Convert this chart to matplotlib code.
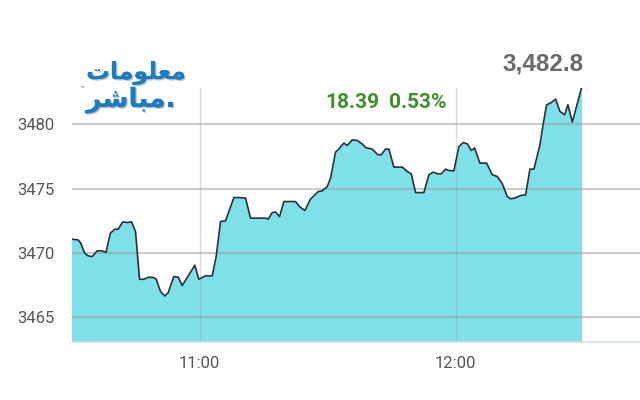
import matplotlib
matplotlib.use("Agg")
import matplotlib.pyplot as plt
import matplotlib.patheffects as pe

# minutes after 10:30
minutes = [0, 1.5, 2.1, 3.1, 3.9, 4.85, 6.0, 7.0, 8.1, 9.1, 10.15, 10.95, 12.0, 13.05, 14.06,
           15.0, 15.94, 16.94, 18.1, 19.3, 19.85, 20.86, 21.87, 22.66, 23.97, 25.0, 25.94,
           28.9, 29.83, 30.77, 31.4, 32.97, 33.9, 34.92, 36.09, 38.04, 39.2, 40.78, 41.95,
           45.47, 46.1, 47.04, 47.8, 48.75, 49.75, 52.5, 53.43, 54.68, 56.0, 57.82, 58.75,
           59.93, 60.7, 61.87, 62.64, 63.82, 64.61, 65.78, 66.96, 68.13, 68.9, 70.47, 71.78,
           72.58, 73.59, 74.36, 75.53, 77.5, 78.67, 79.61, 80.62, 82.56, 83.74, 84.77, 85.7,
           86.64, 87.65, 88.42, 89.6, 90.77, 91.8, 92.74, 93.67, 94.45, 95.69, 97.26, 98.59,
           99.77, 100.94, 102.11, 102.89, 103.82, 105.23, 106.4, 107.41, 108.35, 109.75,
           110.55, 111.32, 112.26, 113.43, 114.44, 115.54, 116.31, 117.34, 119.5]
values = [3471.07, 3471.01, 3470.8, 3469.98, 3469.77, 3469.71, 3470.16, 3470.16, 3470.05,
          3471.53, 3471.84, 3471.84, 3472.41, 3472.36, 3472.41, 3471.66, 3467.95, 3467.95,
          3468.11, 3468.08, 3467.95, 3466.99, 3466.65, 3466.91, 3468.16, 3468.11, 3467.46,
          3469.04, 3467.95, 3468.11, 3468.21, 3468.21, 3469.71, 3472.44, 3472.49, 3474.3,
          3474.3, 3474.26, 3472.7, 3472.7, 3472.62, 3473.14, 3473.17, 3472.82, 3473.99,
          3473.99, 3473.6, 3473.29, 3474.18, 3474.77, 3474.82, 3475.16, 3475.81, 3477.84,
          3478.07, 3478.54, 3478.35, 3478.79, 3478.74, 3478.46, 3478.19, 3478.07, 3477.63,
          3477.63, 3478.07, 3478.07, 3476.67, 3476.67, 3476.33, 3476.15, 3474.69, 3474.69,
          3476.07, 3476.28, 3476.15, 3476.15, 3476.51, 3476.4, 3476.38, 3478.27, 3478.58,
          3478.48, 3477.96, 3478.15, 3476.98, 3476.98, 3476.07, 3475.94, 3475.37, 3474.38,
          3474.2, 3474.26, 3474.46, 3474.51, 3476.51, 3476.51, 3478.4, 3480.09, 3481.52,
          3481.65, 3481.96, 3481.0, 3480.74, 3481.52, 3480.17, 3482.82]

y_ticks = [3465, 3470, 3475, 3480]
x_ticks = [30, 90]
x_tick_labels = ["11:00", "12:00"]
last_price = "3,482.8"
change_text = "18.39"
change_pct_text = "0.53%"

fig = plt.figure(figsize=(6.4, 4.0), dpi=100)
ax = fig.add_axes([71.5 / 640, 58 / 400, 1 - 71.5 / 640, (342 - 88) / 400])

ylo = 3463.07
ax.fill_between(minutes, values, ylo, color="#7fe0ea", lw=0, zorder=1)
ax.plot(minutes, values, color="#273238", lw=1.2, zorder=3)

ax.set_xlim(0, 133.2)
ax.set_ylim(ylo, max(values))
ax.set_yticks(y_ticks)
ax.set_xticks(x_ticks)
ax.set_xticklabels(x_tick_labels)
ax.yaxis.grid(True, color="#9a9a9a", lw=1.6, alpha=0.5, zorder=2)
ax.xaxis.grid(True, color="#9a9a9a", lw=1.0, alpha=0.35, zorder=2)
ax.set_axisbelow(False)
for s in ["top", "right", "left"]:
    ax.spines[s].set_visible(False)
ax.spines["bottom"].set_color("#d5e3ea")
ax.spines["bottom"].set_linewidth(1.2)
ax.tick_params(length=0, colors="#555555", labelsize=12)
ax.tick_params(axis="y", pad=12)
ax.tick_params(axis="x", pad=10)
for lab in ax.get_xticklabels() + ax.get_yticklabels():
    lab.set_family("Roboto")

fig.text(584 / 640, 1 - 64 / 400, last_price, ha="right", va="center",
         fontsize=17.5, fontweight="bold", color="#6a6a6a", family="Liberation Sans")
fig.text(325 / 640, 1 - 103 / 400, change_text, ha="left", va="center",
         fontsize=15, fontweight="bold", color="#3f8f2a", family="Roboto")
fig.text(389 / 640, 1 - 103 / 400, change_pct_text, ha="left", va="center",
         fontsize=15, fontweight="bold", color="#3f8f2a", family="Roboto")

# logo text (Arabic presentation forms in visual order)
shadow = [pe.withSimplePatchShadow(offset=(1, -1), shadow_rgbFace="#9aa4ad", alpha=0.7), pe.Normal()]
fig.text(136 / 640, 1 - 73 / 400, "\uFE95\uFE8E\uFEE3\uFEEE\uFEE0\uFECC\uFEE3", ha="center", va="center",
         fontsize=17, fontweight="bold", color="#1d7cc0", family="DejaVu Sans", path_effects=shadow)
fig.text(131 / 640, 1 - 100 / 400, "\uFEAE\uFEB7\uFE8E\uFE92\uFEE3.", ha="center", va="center",
         fontsize=19, fontweight="bold", color="#1d7cc0", family="DejaVu Sans", path_effects=shadow)
fig.text(82 / 640, 1 - 90 / 400, "\u2122", ha="center", va="center", fontsize=4,
         color="#555555", family="DejaVu Sans")

fig.savefig("out.png", dpi=100, facecolor="white")
